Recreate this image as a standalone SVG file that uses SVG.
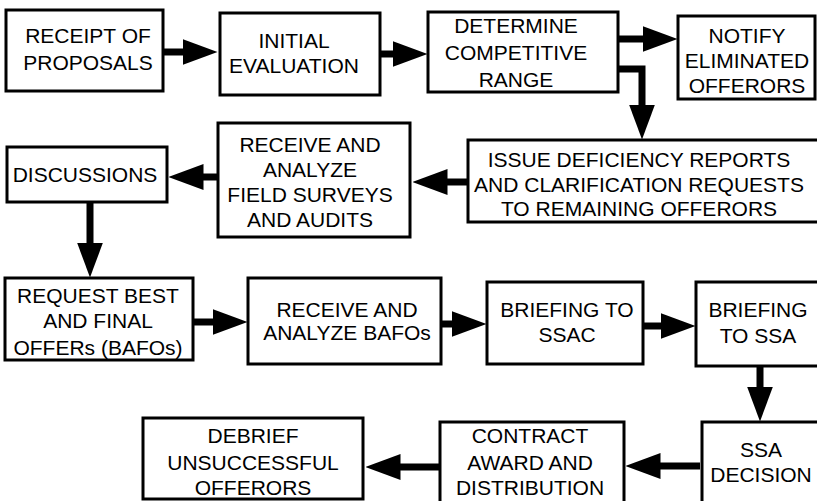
<svg xmlns="http://www.w3.org/2000/svg" width="817" height="501" viewBox="0 0 817 501">
<style>
.box{fill:#fff;stroke:#000;stroke-width:3}
.t{font-family:"Liberation Sans",Arial,Helvetica,sans-serif;font-size:21px;fill:#000;text-anchor:middle}
.c{fill:none;stroke:#000;stroke-width:7}
</style>
<defs>
<marker id="ah" viewBox="0 0 35 26" markerWidth="35" markerHeight="26" refX="0.5" refY="13" orient="auto" markerUnits="userSpaceOnUse">
<path d="M0,0 L35,13 L0,26 z" fill="#000"/>
</marker>
</defs>
<rect width="817" height="501" fill="#fff"/>
<g id="connectors">
<path class="c" d="M163,52 H183" marker-end="url(#ah)"/>
<path class="c" d="M380,54 H393" marker-end="url(#ah)"/>
<path class="c" d="M618,39 H643" marker-end="url(#ah)"/>
<path class="c" d="M618,69 H642 V105" marker-end="url(#ah)"/>
<path class="c" d="M468,182 H447" marker-end="url(#ah)"/>
<path class="c" d="M218,177 H203" marker-end="url(#ah)"/>
<path class="c" d="M90,202 V243" marker-end="url(#ah)"/>
<path class="c" d="M193,322 H213" marker-end="url(#ah)"/>
<path class="c" d="M441,324 H452" marker-end="url(#ah)"/>
<path class="c" d="M643,326 H661" marker-end="url(#ah)"/>
<path class="c" d="M760,366 V387" marker-end="url(#ah)"/>
<path class="c" d="M700,466 H660" marker-end="url(#ah)"/>
<path class="c" d="M440,467 H400" marker-end="url(#ah)"/>
</g>
<g id="n1"><rect class="box" x="6" y="10" width="157" height="81"/>
<text class="t" x="88" y="43">RECEIPT OF</text><text class="t" x="88" y="70">PROPOSALS</text></g>
<g id="n2"><rect class="box" x="220" y="13" width="160" height="82"/>
<text class="t" x="294" y="48">INITIAL</text><text class="t" x="294" y="73">EVALUATION</text></g>
<g id="n3"><rect class="box" x="428" y="12" width="190" height="80"/>
<text class="t" x="516" y="33">DETERMINE</text><text class="t" x="516" y="60">COMPETITIVE</text><text class="t" x="516" y="87">RANGE</text></g>
<g id="n4"><rect class="box" x="678" y="16" width="137" height="83"/>
<text class="t" x="747" y="43">NOTIFY</text><text class="t" x="747" y="68">ELIMINATED</text><text class="t" x="747" y="93">OFFERORS</text></g>
<g id="n5"><rect class="box" x="468" y="140" width="352" height="82"/>
<text class="t" x="639" y="167">ISSUE DEFICIENCY REPORTS</text><text class="t" x="639" y="192">AND CLARIFICATION REQUESTS</text><text class="t" x="639" y="216">TO REMAINING OFFERORS</text></g>
<g id="n6"><rect class="box" x="218" y="123" width="192" height="114"/>
<text class="t" x="310" y="152">RECEIVE AND</text><text class="t" x="310" y="177">ANALYZE</text><text class="t" x="310" y="202">FIELD SURVEYS</text><text class="t" x="310" y="227">AND AUDITS</text></g>
<g id="n7"><rect class="box" x="7" y="147" width="160" height="55"/>
<text class="t" x="85" y="182">DISCUSSIONS</text></g>
<g id="n8"><rect class="box" x="5" y="278" width="188" height="82"/>
<text class="t" x="98" y="303">REQUEST BEST</text><text class="t" x="98" y="328">AND FINAL</text><text class="t" x="98" y="355">OFFERs (BAFOs)</text></g>
<g id="n9"><rect class="box" x="248" y="278" width="193" height="86"/>
<text class="t" x="347" y="317">RECEIVE AND</text><text class="t" x="347" y="340">ANALYZE BAFOs</text></g>
<g id="n10"><rect class="box" x="487" y="282" width="156" height="82"/>
<text class="t" x="567" y="317">BRIEFING TO</text><text class="t" x="567" y="342">SSAC</text></g>
<g id="n11"><rect class="box" x="696" y="282" width="124" height="84"/>
<text class="t" x="758" y="317">BRIEFING</text><text class="t" x="758" y="343">TO SSA</text></g>
<g id="n12"><rect class="box" x="702" y="422" width="118" height="90"/>
<text class="t" x="761" y="457">SSA</text><text class="t" x="761" y="482">DECISION</text></g>
<g id="n13"><rect class="box" x="440" y="422" width="184" height="90"/>
<text class="t" x="530" y="443">CONTRACT</text><text class="t" x="530" y="470">AWARD AND</text><text class="t" x="530" y="495">DISTRIBUTION</text></g>
<g id="n14"><rect class="box" x="143" y="418" width="220" height="81"/>
<text class="t" x="253" y="443">DEBRIEF</text><text class="t" x="253" y="470">UNSUCCESSFUL</text><text class="t" x="253" y="495">OFFERORS</text></g>
</svg>
